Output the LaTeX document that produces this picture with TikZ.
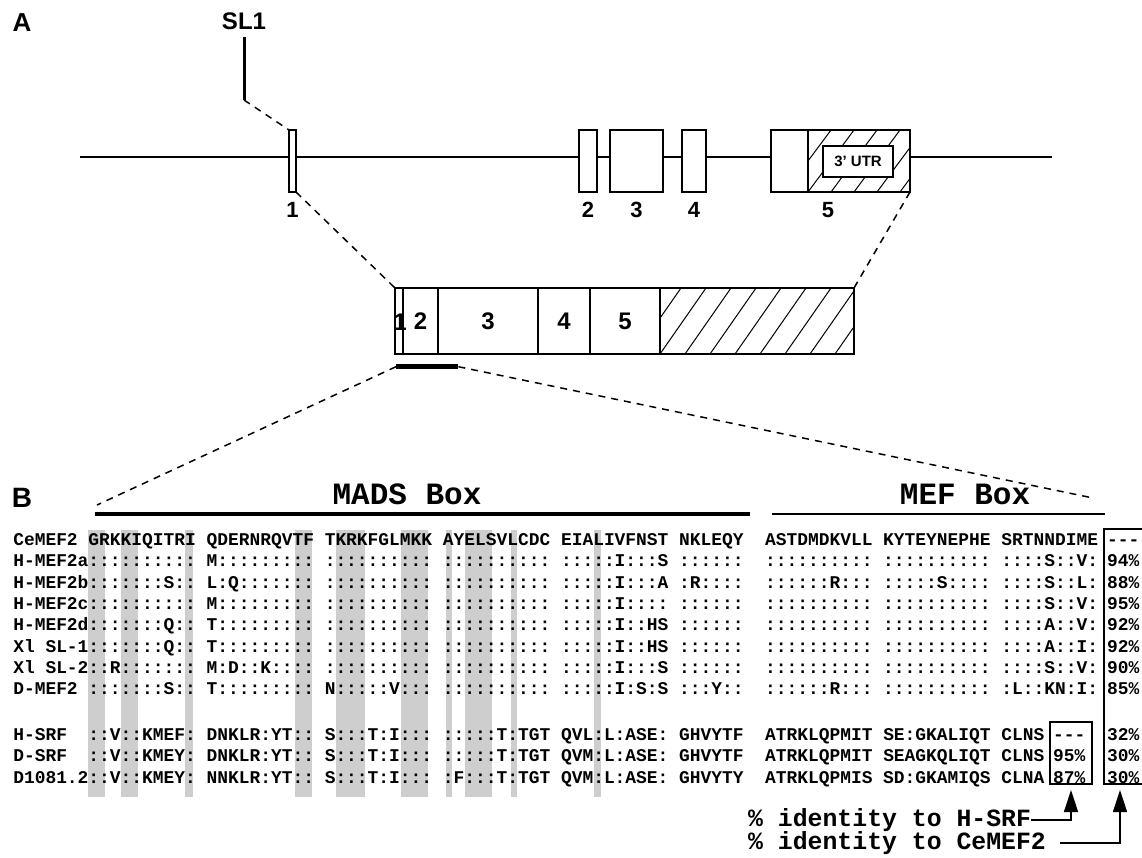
\documentclass[tikz,border=0pt]{standalone}
\usepackage{fontspec}
\setmainfont{Liberation Sans}
\newfontfamily\alnfont{Liberation Mono}
\usetikzlibrary{arrows.meta, positioning, calc}
\definecolor{bandgray}{RGB}{206,206,206}
\newcommand{\nores}{\mbox{-}\mbox{-}\mbox{-}}

\tikzset{
  exon/.style={draw, line width=1.3pt, fill=white, minimum height=62pt, inner sep=0pt, outer sep=0pt, anchor=north west},
  protseg/.style={draw, line width=1.3pt, minimum height=66pt, inner sep=0pt, outer sep=0pt, font=\bfseries\fontsize{24}{26}\selectfont},
  numlbl/.style={inner sep=0pt, font=\bfseries\fontsize{22}{24}\selectfont},
  panel/.style={inner sep=0pt, font=\bfseries\fontsize{26}{28}\selectfont},
  zoomdash/.style={line width=1.5pt, dash pattern=on 7pt off 6pt},
  alnrow/.style={anchor=base west, inner sep=0pt, font=\alnfont\bfseries\frenchspacing\fontsize{17.9}{20}\selectfont},
  hdr/.style={inner sep=0pt, font=\alnfont\bfseries\fontsize{31}{33}\selectfont},
  idtext/.style={anchor=west, inner sep=0pt, font=\alnfont\bfseries\frenchspacing\fontsize{24.8}{27}\selectfont},
  pctframe/.style={draw, line width=1.5pt, inner sep=0pt, outer sep=0pt, anchor=north west},
  idarrow/.style={line width=1.5pt, -{Triangle[width=14pt,length=22pt]}, shorten >=6pt},
}

\begin{document}
\begin{tikzpicture}[x=1pt, y=-1pt]
\useasboundingbox (0,0) rectangle (1142,858);

% A: gene
\node[panel] (A) at (22,23) {A};
\node[panel, font=\bfseries\fontsize{24}{26}\selectfont] (sl1) at (244,21) {SL1};
\coordinate (slTop) at (244,37);
\coordinate (slBot) at (244,100);
\coordinate (gL) at (80,157);
\coordinate (gR) at (1052,157);
\draw[line width=1.3pt] (gL) -- (gR);
\draw[line width=3pt] (slTop) -- (slBot);

\node[exon, minimum width=7pt] (ex1) at (289,130) {};
\node[exon, minimum width=18pt] (ex2) at (579,130) {};
\node[exon, minimum width=53pt] (ex3) at (610,130) {};
\node[exon, minimum width=24pt] (ex4) at (682,130) {};
\node[exon, minimum width=37pt] (ex5a) at (771,130) {};
\node[exon, minimum width=102pt, right=0pt of ex5a, anchor=west] (ex5b) {};
\begin{scope}
  \clip (ex5b.south west) rectangle (ex5b.north east);
  \foreach \k in {-3,...,5}
    \draw[line width=1pt] ($(ex5b.south west)+(\k*23,0)$) -- ++(46,-62);
\end{scope}
\draw[line width=1.3pt] (ex5b.south west) rectangle (ex5b.north east);
\draw[line width=2.6pt] (ex5b.south west) -- (ex5b.north west);
\node[draw, line width=1.3pt, fill=white, minimum width=70pt, minimum height=31pt, inner sep=0pt,
      font=\bfseries\fontsize{15}{16}\selectfont] (utr) at (858,161.5) {3' UTR};

\node[numlbl, below=10pt of ex1] (l1) {1};
\node[numlbl, below=10pt of ex2] (l2) {2};
\node[numlbl, below=10pt of ex3] (l3) {3};
\node[numlbl, below=10pt of ex4] (l4) {4};
\node[numlbl, below=10pt of ex5a.south east, xshift=20pt] (l5) {5};

% protein
\node[protseg, minimum width=8pt, anchor=north west] (p1) at (395,288) {};
\node[protseg, minimum width=35pt, right=0pt of p1] (p2) {2};
\node[protseg, minimum width=100pt, right=0pt of p2] (p3) {3};
\node[protseg, minimum width=52pt, right=0pt of p3] (p4) {4};
\node[protseg, minimum width=70pt, right=0pt of p4] (p5) {5};
\node[protseg, minimum width=194pt, right=0pt of p5] (p6) {};
\begin{scope}
  \clip (p6.south west) rectangle (p6.north east);
  \foreach \k in {-2,...,8}
    \draw[line width=1pt] ($(p6.south west)+(\k*25,0)$) -- ++(46,-66);
\end{scope}
\draw[line width=1.3pt] (p6.south west) rectangle (p6.north east);
\draw[line width=2.6pt] (p4.north west) -- (p4.south west);
\draw[line width=2.6pt] (p5.north west) -- (p5.south west);
\draw[line width=2.6pt] (p6.north west) -- (p6.south west);
\node[protseg, draw=none, font=\bfseries\fontsize{24}{26}\selectfont] (p1lbl) at (400,322) {1};
\node[fill=black, minimum width=62pt, minimum height=5pt, inner sep=0pt, anchor=north west] (madsbar) at (396,364) {};

\draw[zoomdash] (slBot) -- (ex1.north west);
\draw[zoomdash] (ex1.south east) -- (p1.north west);
\draw[zoomdash] (ex5b.south east) -- (p6.north east);

% B: alignment
\node[panel, font=\bfseries\fontsize{28}{30}\selectfont] (B) at (22,498) {B};
\coordinate (madsL) at (95,514);
\coordinate (madsR) at (750,514);
\coordinate (mefL) at (772,514);
\coordinate (mefR) at (1105,514);
\coordinate (dL) at (97,505);
\coordinate (dR) at (1093,498);
\draw[line width=4.5pt] (madsL) -- (madsR);
\draw[line width=2pt] (mefL) -- (mefR);
\node[hdr] (madshdr) at (407,494) {MADS Box};
\node[hdr] (mefhdr) at (965,494) {MEF Box};
\draw[zoomdash] (madsbar.west) -- (dL);
\draw[zoomdash] (madsbar.east) -- (dR);

\foreach \xa/\xb in {88/105, 120.5/137.5, 185/193, 294.5/311.5, 336/365,
                     400.5/427.5, 445.5/452, 465/492, 510.5/517, 594/600.5}
  \fill[bandgray] (\xa,530) rectangle (\xb,797);

\node[alnrow] (rCe) at (13.1,545.5) {CeMEF2 GRKKIQITRI QDERNRQVTF TKRKFGLMKK AYELSVLCDC EIALIVFNST NKLEQY~~ASTDMDKVLL KYTEYNEPHE SRTNNDIME};
\node[alnrow] (rA) at (13.1,566.8) {H-MEF2a:::::::::: M::::::::: :::::::::: :::::::::: :::::I:::S ::::::~~:::::::::: :::::::::: ::::S::V:};
\node[alnrow] (rB) at (13.1,588.1) {H-MEF2b:::::::S:: L:Q::::::: :::::::::: :::::::::: :::::I:::A :R::::~~::::::R::: :::::S:::: ::::S::L:};
\node[alnrow] (rC) at (13.1,609.4) {H-MEF2c:::::::::: M::::::::: :::::::::: :::::::::: :::::I:::: ::::::~~:::::::::: :::::::::: ::::S::V:};
\node[alnrow] (rD) at (13.1,630.7) {H-MEF2d:::::::Q:: T::::::::: :::::::::: :::::::::: :::::I::HS ::::::~~:::::::::: :::::::::: ::::A::V:};
\node[alnrow] (rX1) at (13.1,652.0) {Xl SL-1:::::::Q:: T::::::::: :::::::::: :::::::::: :::::I::HS ::::::~~:::::::::: :::::::::: ::::A::I:};
\node[alnrow] (rX2) at (13.1,673.3) {Xl SL-2::R::::::: M:D::K:::: :::::::::: :::::::::: :::::I:::S ::::::~~:::::::::: :::::::::: ::::S::V:};
\node[alnrow] (rDm) at (13.1,694.6) {D-MEF2 :::::::S:: T::::::::: N:::::V::: :::::::::: :::::I:S:S :::Y::~~::::::R::: :::::::::: :L::KN:I:};
\node[alnrow] (rHs) at (13.1,740.5) {H-SRF~~::V::KMEF: DNKLR:YT:: S:::T:I::: :::::T:TGT QVL:L:ASE: GHVYTF~~ATRKLQPMIT SE:GKALIQT CLNS};
\node[alnrow] (rDs) at (13.1,761.8) {D-SRF~~::V::KMEY: DNKLR:YT:: S:::T:I::: :::::T:TGT QVM:L:ASE: GHVYTF~~ATRKLQPMIT SEAGKQLIQT CLNS};
\node[alnrow] (rDc) at (13.1,783.1) {D1081.2::V::KMEY: NNKLR:YT:: S:::T:I::: :F:::T:TGT QVM:L:ASE: GHVYTY~~ATRKLQPMIS SD:GKAMIQS CLNA};

\node[pctframe, minimum width=60pt, minimum height=255pt] (cebox) at (1104,529) {};
\node[pctframe, minimum width=42pt, minimum height=62pt] (srfbox) at (1050,722) {};
\coordinate (ceArr) at (1120,784);

\node[alnrow] (pc0) at (1107,545.5) {\nores};
\node[alnrow] (pc1) at (1107,566.8) {94\%};
\node[alnrow] (pc2) at (1107,588.1) {88\%};
\node[alnrow] (pc3) at (1107,609.4) {95\%};
\node[alnrow] (pc4) at (1107,630.7) {92\%};
\node[alnrow] (pc5) at (1107,652.0) {92\%};
\node[alnrow] (pc6) at (1107,673.3) {90\%};
\node[alnrow] (pc7) at (1107,694.6) {85\%};
\node[alnrow] (pc8) at (1107,740.5) {32\%};
\node[alnrow] (pc9) at (1107,761.8) {30\%};
\node[alnrow] (pc10) at (1107,783.1) {30\%};
\node[alnrow] (ps0) at (1053,740.5) {\nores};
\node[alnrow] (ps1) at (1053,761.8) {95\%};
\node[alnrow] (ps2) at (1053,783.1) {87\%};

\node[idtext] (idsrf) at (748,820) {\% identity to H-SRF};
\node[idtext] (idce) at (748,843) {\% identity to CeMEF2};
\draw[idarrow] (idsrf.east) -| (srfbox.south);
\draw[idarrow] ([xshift=14pt]idce.east) -| (ceArr);
\end{tikzpicture}
\end{document}
